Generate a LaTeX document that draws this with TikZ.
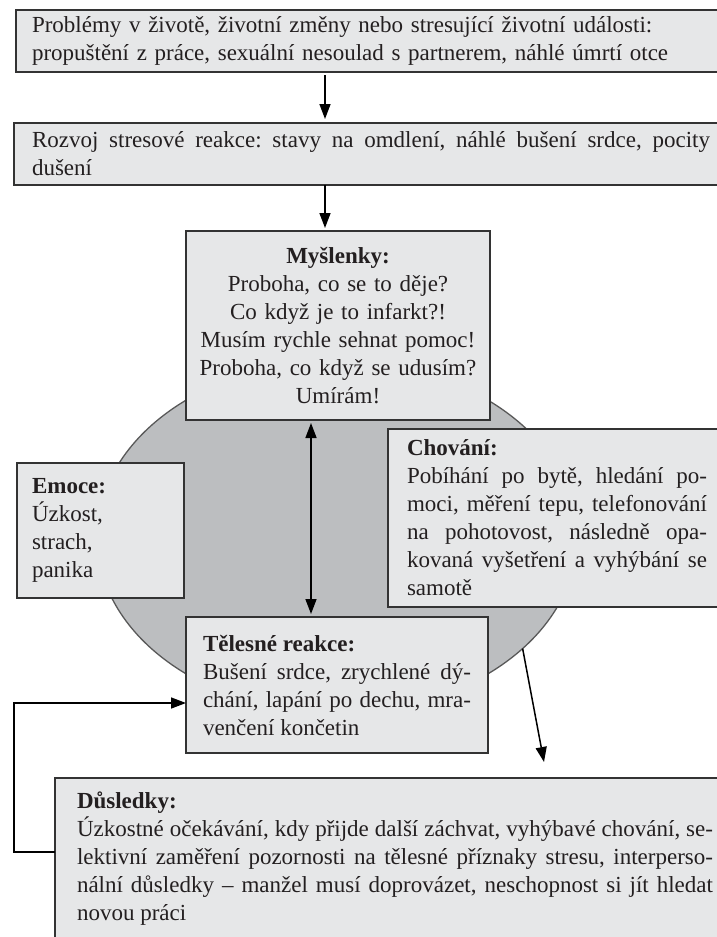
\documentclass[tikz,border=0pt]{standalone}
\usepackage{fontspec}
\setmainfont{Liberation Serif}
\usetikzlibrary{arrows.meta,shapes.geometric}
\definecolor{boxgray}{HTML}{E6E7E8}
\definecolor{ringgray}{HTML}{BCBEC0}
\definecolor{ink}{HTML}{231F20}
\frenchspacing

\begin{document}
\begin{tikzpicture}[x=1pt, y=-1pt,
    box/.style={draw=black!80, line width=1.6pt, fill=boxgray, anchor=north west, text=ink,
      font=\fontsize{23}{28}\selectfont, inner ysep=0pt, outer sep=0pt},
    arrow/.style={-{Triangle[length=15pt,width=11pt]}, line width=1.5pt},
    both/.style={arrow, {Triangle[length=15pt,width=11pt]}-{Triangle[length=15pt,width=11pt]}}]
  % \draw[help lines] (0,0) grid[step=50] (717,937);
  \useasboundingbox (0,0) rectangle (717,937);

  \node[draw=black!65, line width=1.3pt, fill=ringgray, ellipse, minimum width=480pt,
    minimum height=352pt, inner sep=0pt, outer sep=0pt] (kruh) at (337,537) {};

  \node[box, inner xsep=16pt, text width=678pt, align=left, minimum height=62pt] (prob) at (16,10)
    {Problémy v životě, životní změny nebo stresující životní události:\\
     propuštění z práce, sexuální nesoulad s partnerem, náhlé úmrtí otce};
  \node[box, inner xsep=18pt, text width=678pt, align=justify, minimum height=62pt] (rozvoj) at (14,123)
    {Rozvoj stresové reakce: stavy na omdlení, náhlé bušení srdce, pocity\linebreak dušení};

  \node[box, inner xsep=8pt, text width=288pt, align=center, minimum height=189pt] (mysl) at (186,231)
    {\textbf{Myšlenky:}\\ Proboha, co se to děje?\\ Co když je to infarkt?!\\
     Musím rychle sehnat pomoc!\\ Proboha, co když se udusím?\\ Umírám!};
  \node[box, inner xsep=15pt, text width=137pt, align=left, minimum height=135pt] (emoce) at (17,463)
    {\textbf{Emoce:}\\ Úzkost,\\ strach,\\ panika};
  \node[box, inner xsep=19pt, text width=300pt, align=justify, minimum height=178pt] (chov) at (388,429)
    {\textbf{Chování:}\\ Pobíhání po bytě, hledání po-\linebreak moci, měření tepu, telefonování\linebreak
     na pohotovost, následně opa-\linebreak kovaná vyšetření a vyhýbání se\linebreak samotě};
  \node[box, inner xsep=17pt, text width=268pt, align=justify, minimum height=136pt] (tel) at (186,617)
    {\textbf{Tělesné reakce:}\\ Bušení srdce, zrychlené dý-\linebreak chání, lapání po dechu, mra-\linebreak
     venčení končetin};
  \node[box, inner xsep=22pt, text width=636pt, align=justify, minimum height=162pt] (dus) at (55,778)
    {\textbf{Důsledky:}\\ Úzkostné očekávání, kdy přijde další záchvat, vyhýbavé chování, se-\linebreak
     lektivní zaměření pozornosti na tělesné příznaky stresu, interperso-\linebreak
     nální důsledky -- manžel musí doprovázet, neschopnost si jít hledat\linebreak novou práci};

  \coordinate (osa) at (325,0);
  \coordinate (spoj) at (311,0);
  \coordinate (cil) at (544,762);
  \coordinate (smycka) at (14,703);
  \draw[arrow, shorten <=3pt, shorten >=4pt] (prob.south -| osa) -- (rozvoj.north -| osa);
  \draw[arrow, shorten >=3pt] (rozvoj.south -| osa) -- (mysl.north -| osa);
  \draw[both, shorten <=3pt, shorten >=3pt] (mysl.south -| spoj) -- (tel.north -| spoj);
  \draw[arrow] (kruh.-31) -- (cil);
  \draw[arrow] ([yshift=-74pt]dus.north west) -| (smycka) -- (smycka -| tel.west);
\end{tikzpicture}
\end{document}
